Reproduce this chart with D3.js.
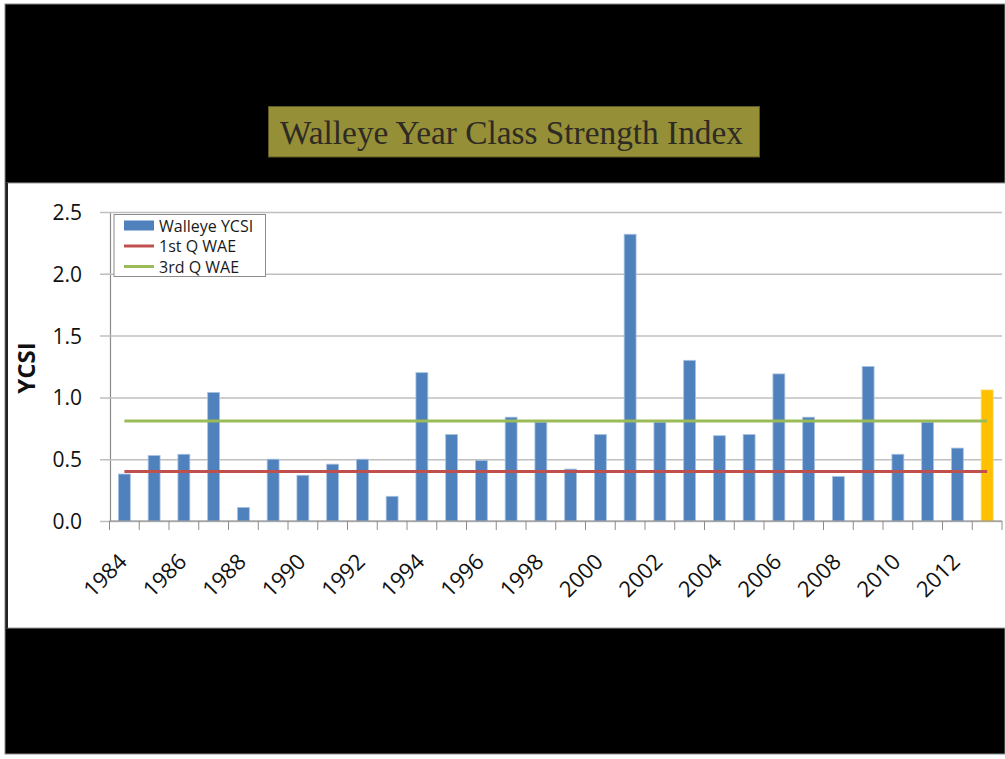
<!DOCTYPE html>
<html>
<head>
<meta charset="utf-8">
<script src="https://cdn.jsdelivr.net/npm/d3@7"></script>
<style>
  html, body { margin: 0; padding: 0; background: #ffffff; }
  svg { display: block; }
</style>
</head>
<body>
<svg id="chart" width="1005" height="759"></svg>
<script>
// Walleye year class strength index by year
const years = [1984, 1985, 1986, 1987, 1988, 1989, 1990, 1991, 1992, 1993,
               1994, 1995, 1996, 1997, 1998, 1999, 2000, 2001, 2002, 2003,
               2004, 2005, 2006, 2007, 2008, 2009, 2010, 2011, 2012, 2013];
const ycsi = [0.38, 0.53, 0.54, 1.04, 0.11, 0.50, 0.37, 0.46, 0.50, 0.20,
              1.20, 0.70, 0.49, 0.84, 0.80, 0.42, 0.70, 2.32, 0.80, 1.30,
              0.69, 0.70, 1.19, 0.84, 0.36, 1.25, 0.54, 0.80, 0.59, 1.06];
// Quartile reference levels
const firstQuartile = 0.40;
const thirdQuartile = 0.81;
const yTicks = [0, 0.5, 1.0, 1.5, 2.0, 2.5];
const tickYears = years.filter(y => y % 2 === 0);
const highlightYear = 2013;
const legendLabels = ["Walleye YCSI", "1st Q WAE", "3rd Q WAE"];
const titleText = "Walleye Year Class Strength Index";
const yAxisTitle = "YCSI";

const colors = { bar: "#4f81bd", highlight: "#ffc000", q1: "#c0504d", q3: "#9bbb59", grid: "#bfbfbf", axis: "#8c8c8c" };
const tickFont = "'Open Sans', 'DejaVu Sans', sans-serif";

const svg = d3.select("#chart");

// Slide background
svg.append("rect").attr("x", 5).attr("y", 4).attr("width", 1000).attr("height", 750)
  .attr("fill", "#000").attr("stroke", "#8a8a8a").attr("stroke-width", 1);

// Title banner
svg.append("rect").attr("x", 268.5).attr("y", 106.5).attr("width", 491).attr("height", 50.5)
  .attr("fill", "#958f37").attr("stroke", "#5e5a20").attr("stroke-width", 1);
svg.append("text").attr("x", 280).attr("y", 143.5)
  .attr("font-family", "'Liberation Serif', 'Times New Roman', serif")
  .attr("font-size", 33).attr("fill", "#2e2a24")
  .attr("textLength", 463).attr("lengthAdjust", "spacingAndGlyphs")
  .text(titleText);

// Chart panel
svg.append("rect").attr("x", 7).attr("y", 183).attr("width", 1000).attr("height", 445)
  .attr("fill", "#fff").attr("stroke", "#9a9a9a").attr("stroke-width", 1);
svg.append("line").attr("x1", 7).attr("x2", 7).attr("y1", 183).attr("y2", 628)
  .attr("stroke", "#222").attr("stroke-width", 2);

// Scales
const x = d3.scaleBand().domain(years).range([109.5, 1002]).paddingInner(0.6).paddingOuter(0.3);
const y = d3.scaleLinear().domain([0, 2.5]).range([521, 212]);
const cx = d => x(d) + x.bandwidth() / 2;

// Horizontal gridlines with outward tick marks
const yAxis = d3.axisLeft(y).tickValues(yTicks).tickSize(-(1002 - 110)).tickSizeOuter(0)
  .tickFormat(d3.format(".1f")).tickPadding(0);
const gy = svg.append("g").attr("transform", "translate(110,0)").call(yAxis);
gy.select(".domain").attr("stroke", colors.axis).attr("stroke-width", 1.2);
gy.selectAll(".tick line").attr("stroke", colors.grid).attr("stroke-width", 1.5).attr("x1", -10);
gy.selectAll(".tick text").attr("x", -28).attr("font-family", tickFont).attr("font-size", 21)
  .attr("fill", "#111").attr("dy", "0.36em");

// Bars
svg.append("g").selectAll("rect").data(years).join("rect")
  .attr("x", d => x(d)).attr("width", x.bandwidth())
  .attr("y", (d, i) => y(ycsi[i])).attr("height", (d, i) => y(0) - y(ycsi[i]))
  .attr("fill", d => d === highlightYear ? colors.highlight : colors.bar)
  .attr("stroke", d => d === highlightYear ? "#ffd45a" : "#a9c2e2").attr("stroke-width", 0.8);

// Quartile lines
const level = v => d3.line().x(d => cx(d)).y(() => y(v));
svg.append("path").datum(years).attr("d", level(firstQuartile))
  .attr("fill", "none").attr("stroke", colors.q1).attr("stroke-width", 3);
svg.append("path").datum(years).attr("d", level(thirdQuartile))
  .attr("fill", "none").attr("stroke", colors.q3).attr("stroke-width", 3);

// Category axis: boundary ticks and rotated labels
svg.append("line").attr("x1", 109.5).attr("x2", 1002).attr("y1", y(0)).attr("y2", y(0))
  .attr("stroke", colors.axis).attr("stroke-width", 1.2);
const boundaries = years.map(d => x(d) - x.step() * x.paddingInner() / 2);
boundaries.push(1002);
svg.append("g").selectAll("line").data(boundaries).join("line")
  .attr("x1", d => d).attr("x2", d => d).attr("y1", y(0)).attr("y2", y(0) + 9)
  .attr("stroke", colors.axis).attr("stroke-width", 1);
svg.append("g").selectAll("text").data(tickYears).join("text")
  .attr("transform", d => `translate(${cx(d) + 4},563) rotate(-45)`)
  .attr("text-anchor", "end").attr("font-family", tickFont).attr("font-size", 22)
  .attr("fill", "#111").text(d => d);

// Y axis title
svg.append("text").attr("transform", "translate(35,368) rotate(-90)")
  .attr("text-anchor", "middle").attr("font-family", tickFont).attr("font-weight", "bold")
  .attr("font-size", 24).attr("fill", "#111").text(yAxisTitle);

// Legend
const lg = svg.append("g").attr("transform", "translate(114,214.5)");
lg.append("rect").attr("width", 151.5).attr("height", 62).attr("fill", "#fff")
  .attr("stroke", "#8c8c8c").attr("stroke-width", 1);
lg.append("rect").attr("x", 10).attr("y", 6).attr("width", 30).attr("height", 10).attr("fill", colors.bar);
lg.append("line").attr("x1", 10).attr("x2", 40).attr("y1", 31.5).attr("y2", 31.5)
  .attr("stroke", colors.q1).attr("stroke-width", 3);
lg.append("line").attr("x1", 10).attr("x2", 40).attr("y1", 52).attr("y2", 52)
  .attr("stroke", colors.q3).attr("stroke-width", 3);
lg.selectAll("text.lbl").data(legendLabels).join("text").attr("class", "lbl")
  .attr("x", 45).attr("y", (d, i) => 17 + i * 20.5)
  .attr("font-family", tickFont).attr("font-size", 16).attr("fill", "#1a1a1a").text(d => d);
</script>
</body>
</html>
